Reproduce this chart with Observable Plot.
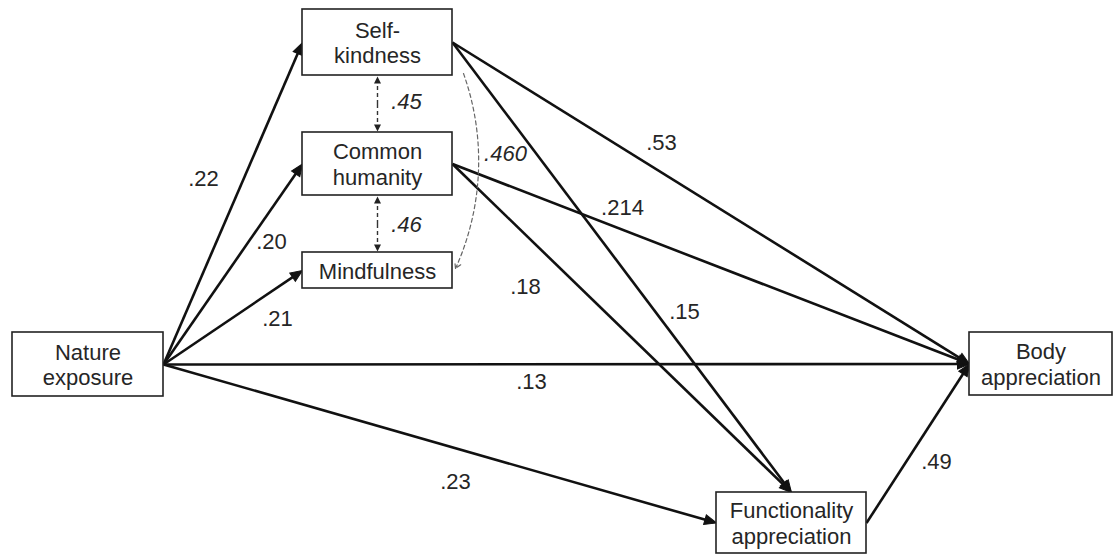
<!DOCTYPE html>
<html><head><meta charset="utf-8">
<script src="https://cdn.jsdelivr.net/npm/d3@7"></script>
<script src="https://cdn.jsdelivr.net/npm/@observablehq/plot@0.6"></script>
<style>body{margin:0;background:#fff}</style>
</head><body><div id="chart"></div>
<script>
// ---- data ----
const nodeIds = ["SK", "CH", "MF", "NE", "BA", "FA"];
const nodeLabels = ["Self-\nkindness", "Common\nhumanity", "Mindfulness", "Nature\nexposure", "Body\nappreciation", "Functionality\nappreciation"];

// directed paths (regression coefficients)
const pathFrom = ["NE", "NE", "NE", "NE", "NE", "SK", "SK", "CH", "CH", "FA"];
const pathTo   = ["SK", "CH", "MF", "BA", "FA", "BA", "FA", "BA", "FA", "BA"];
const pathCoef = [".22", ".20", ".21", ".13", ".23", ".53", ".15", ".214", ".18", ".49"];

// covariances (double-headed, dashed)
const covFrom = ["SK", "CH", "SK"];
const covTo   = ["CH", "MF", "MF"];
const covCoef = [".45", ".46", ".460"];

// ---- layout (diagram geometry) ----
const nodeCX = [377, 377, 377, 87.5, 1040.5, 791];
const nodeCY = [42, 163.5, 270, 364, 363.5, 522.5];
const nodeW  = [150, 150, 150, 151, 143, 150];
const nodeH  = [66, 63, 36, 64, 63, 61];
const pathFromSide = ["r", "r", "r", "r", "r", "r", "r", "r", "r", "r"];
const pathToSide   = ["l", "l", "l", "l", "l", "l", "t", "l", "t", "l"];
const pathLabelX = [203, 271, 277, 531, 455, 661, 684, 622, 525, 936];
const pathLabelY = [178, 241, 318, 381, 481, 142, 311, 207, 286, 461];
const covLabelX = [406, 406, 505];
const covLabelY = [101, 224, 153];

// ---- build ----
const nodes = nodeIds.map((id, i) => ({
  id, label: nodeLabels[i], cx: nodeCX[i], cy: nodeCY[i],
  x1: nodeCX[i] - nodeW[i] / 2, x2: nodeCX[i] + nodeW[i] / 2,
  y1: nodeCY[i] - nodeH[i] / 2, y2: nodeCY[i] + nodeH[i] / 2
}));
const byId = Object.fromEntries(nodes.map(n => [n.id, n]));
function port(n, side) {
  if (side === "r") return [n.x2, n.cy];
  if (side === "l") return [n.x1, n.cy];
  if (side === "t") return [n.cx, n.y1];
  return [n.cx, n.y2];
}
function seg(x1, y1, x2, y2, back) {
  const dx = x2 - x1, dy = y2 - y1, L = Math.hypot(dx, dy);
  return {x1, y1, x2, y2, ex: x2 - dx / L * back, ey: y2 - dy / L * back,
          rot: Math.atan2(dx, -dy) * 180 / Math.PI};
}
const paths = pathFrom.map((f, i) => {
  const [x1, y1] = port(byId[f], pathFromSide[i]);
  const [x2, y2] = port(byId[pathTo[i]], pathToSide[i]);
  return {...seg(x1, y1, x2, y2, 6), coef: pathCoef[i], lx: pathLabelX[i], ly: pathLabelY[i]};
});

// vertical double-headed covariances between stacked boxes: split at midpoint
const covStraight = [];
for (let i = 0; i < 2; i++) {
  const a = byId[covFrom[i]], b = byId[covTo[i]];
  const [ax, ay] = port(a, "b"), [bx, by] = port(b, "t");
  const mx = (ax + bx) / 2, my = (ay + by) / 2;
  covStraight.push(seg(mx, my, ax, ay + 1, 3));
  covStraight.push(seg(mx, my, bx, by - 1, 3));
}
// curved covariance SK -> MF on the right side
const skN = byId["SK"], mfN = byId["MF"];
const covCurve = [{x1: skN.x2 + 11, y1: skN.y2 - 2, x2: mfN.x2 + 3, y2: mfN.cy - 2}];
const covLabels = covCoef.map((c, i) => ({coef: c, lx: covLabelX[i], ly: covLabelY[i]}));

// filled arrowhead symbols: tip at origin pointing up
const bigHead = {draw(c) { c.moveTo(0, 0); c.lineTo(-5, 12); c.lineTo(5, 12); c.closePath(); }};
const smallHead = {draw(c) { c.moveTo(0, 0); c.lineTo(-3.5, 7); c.lineTo(3.5, 7); c.closePath(); }};

const font = "Liberation Sans, Arial, Helvetica, sans-serif";
const ink = "#262626";
const chart = Plot.plot({
  width: 1114, height: 556, margin: 0,
  x: {domain: [0, 1114], range: [0, 1114], axis: null},
  y: {domain: [0, 556], range: [0, 556], axis: null},
  style: {fontFamily: font, background: "white"},
  marks: [
    Plot.link(paths, {x1: "x1", y1: "y1", x2: "ex", y2: "ey", stroke: "#111", strokeWidth: 2.6}),
    Plot.dot(paths, {x: "x2", y: "y2", rotate: "rot", symbol: bigHead, fill: "#111", stroke: "#111", strokeWidth: 1}),
    Plot.link(covStraight, {x1: "x1", y1: "y1", x2: "ex", y2: "ey", stroke: "#333", strokeWidth: 1.4, strokeDasharray: "4,3"}),
    Plot.dot(covStraight, {x: "x2", y: "y2", rotate: "rot", symbol: smallHead, fill: "#222"}),
    Plot.arrow(covCurve, {x1: "x1", y1: "y1", x2: "x2", y2: "y2", bend: 22, stroke: "#666", strokeWidth: 1.2, strokeDasharray: "4,3", headLength: 8, headAngle: 60}),
    Plot.rect(nodes, {x1: "x1", x2: "x2", y1: "y1", y2: "y2", fill: "white", stroke: "#222", strokeWidth: 1.6}),
    Plot.text(nodes, {x: "cx", y: "cy", text: "label", fontSize: 22, lineHeight: 1.15, fill: ink}),
    Plot.text(paths, {x: "lx", y: "ly", text: "coef", fontSize: 22, fill: ink}),
    Plot.text(covLabels, {x: "lx", y: "ly", text: "coef", fontSize: 22, fontStyle: "italic", fill: ink})
  ]
});
document.getElementById("chart").appendChild(chart);
</script></body></html>
